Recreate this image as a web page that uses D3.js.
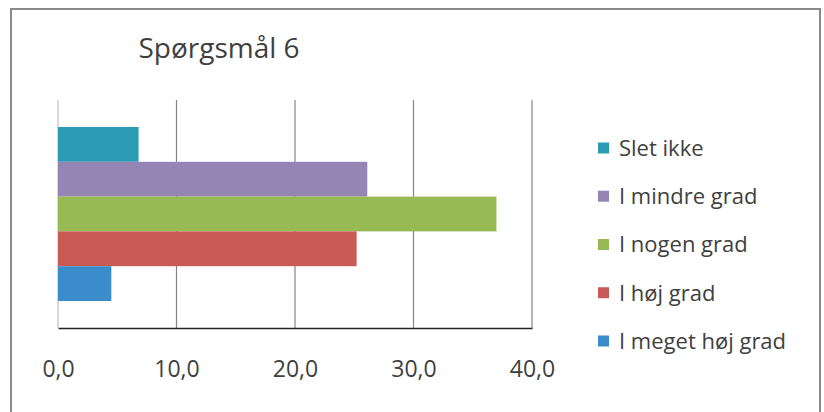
<!DOCTYPE html>
<html>
<head>
<meta charset="utf-8">
<script src="https://cdn.jsdelivr.net/npm/d3@7"></script>
<style>
  html, body { margin: 0; padding: 0; background: #fff; }
  svg { display: block; }
  text { font-family: "Open Sans", Lato, sans-serif; fill: #3f3f3f; }
</style>
</head>
<body>
<svg id="chart" width="824" height="412"></svg>
<script>
const title = "Spørgsmål 6";
const seriesNames = ["Slet ikke", "I mindre grad", "I nogen grad", "I høj grad", "I meget høj grad"];
const seriesValues = [6.8, 26.1, 37.0, 25.2, 4.5];
const seriesColors = ["#2a9bb3", "#9585b5", "#97ba55", "#c95a55", "#3a8ccb"];
const tickValues = [0, 10, 20, 30, 40];

const svg = d3.select("#chart");

// outer frame
svg.append("rect")
  .attr("x", 11).attr("y", 9)
  .attr("width", 809).attr("height", 420)
  .attr("fill", "none").attr("stroke", "#8a8a8a").attr("stroke-width", 2);

const plot = { left: 58, right: 532, top: 100, bottom: 328 };

const x = d3.scaleLinear().domain([0, 40]).range([plot.left, plot.right]);
const y = d3.scaleBand().domain(seriesNames).range([plot.top, plot.bottom])
  .paddingInner(0).paddingOuter(0.776);

// gridlines
svg.append("g").selectAll("line")
  .data(tickValues)
  .join("line")
  .attr("x1", d => x(d)).attr("x2", d => x(d))
  .attr("y1", plot.top).attr("y2", plot.bottom)
  .attr("stroke", d => d === 0 ? "#c0c0c0" : "#858585")
  .attr("stroke-width", 1.2);

// bars
svg.append("g").selectAll("rect")
  .data(seriesNames)
  .join("rect")
  .attr("x", x(0))
  .attr("y", d => y(d))
  .attr("width", (d, i) => x(seriesValues[i]) - x(0))
  .attr("height", y.bandwidth())
  .attr("fill", (d, i) => seriesColors[i]);

// x axis
const xAxis = d3.axisBottom(x)
  .tickValues(tickValues)
  .tickSize(0)
  .tickPadding(0)
  .tickFormat(d => d3.format(".1f")(d).replace(".", ","));
const ax = svg.append("g")
  .attr("transform", `translate(0,${plot.bottom})`)
  .call(xAxis);
ax.select(".domain").attr("stroke", "#222").attr("stroke-width", 1.6);
ax.selectAll(".tick text")
  .attr("dy", null)
  .attr("y", 49)
  .style("font-size", "23px")
  .style("font-family", "'Open Sans', Lato, sans-serif")
  .attr("fill", "#3f3f3f");

// title
svg.append("text")
  .attr("x", 219).attr("y", 58)
  .attr("text-anchor", "middle")
  .style("font-size", "28px")
  .text(title);

// legend
const legend = svg.append("g");
const legendY = d3.scalePoint().domain(seriesNames).range([148, 341]);
const items = legend.selectAll("g").data(seriesNames).join("g")
  .attr("transform", d => `translate(598,${legendY(d)})`);
items.append("rect")
  .attr("x", 0).attr("y", -5.5)
  .attr("width", 11).attr("height", 11)
  .attr("fill", (d, i) => seriesColors[i]);
items.append("text")
  .attr("x", 21).attr("y", 0)
  .attr("dy", "0.36em")
  .style("font-size", "22px")
  .text(d => d);
</script>
</body>
</html>
